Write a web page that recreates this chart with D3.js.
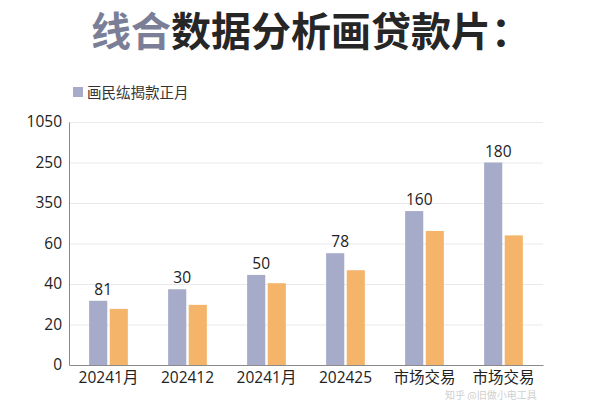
<!DOCTYPE html>
<html lang="zh">
<head>
<meta charset="UTF-8">
<title>线合数据分析画贷款片</title>
<style>
  body { margin: 0; background: #fff; }
  svg text { font-family: "Open Sans", "Noto Sans CJK SC", sans-serif; }
  .grid line { stroke: #e9e9e9; }
  .grid path { display: none; }
  .axis text { font-size: 15.5px; fill: #222; }
  .axis path, .axis line { stroke: #8a8a8a; }
</style>
</head>
<body>
<div id="chart"></div>
<script src="https://d3js.org/d3.v7.min.js"></script>
<script>
// data (bar heights in axis units, 20 units per gridline)
var categories = ["20241月", "202412", "20241月", "202425", "市场交易", "市场交易"];
var blueValues = [31.7, 37.4, 44.5, 55.2, 76, 100];
var orangeValues = [27.7, 29.7, 40.4, 46.8, 66.2, 64];
var barLabels = ["81", "30", "50", "78", "160", "180"];
var tickValues = [0, 20, 40, 60, 80, 100, 120];
var tickLabels = ["0", "20", "40", "60", "350", "250", "1050"];
var legendLabel = "画民纮揭款正月";

var W = 600, H = 400;
var margin = {top: 122, right: 57, bottom: 35, left: 69};
var width = W - margin.left - margin.right,
    height = H - margin.top - margin.bottom;

var svg = d3.select("#chart").append("svg")
    .attr("width", W)
    .attr("height", H);

// title
var title = svg.append("text")
    .attr("x", 91).attr("y", 46)
    .style("font-family", "'Noto Sans CJK SC', sans-serif")
    .style("font-size", "40px")
    .style("font-weight", "bold");
title.append("tspan").attr("fill", "#7a7f97").text("线合");
title.append("tspan").attr("fill", "#262626").text("数据分析画贷款片：");

// legend
svg.append("rect")
    .attr("x", 73).attr("y", 87)
    .attr("width", 10).attr("height", 10)
    .attr("fill", "#a5abc9");
svg.append("text")
    .attr("x", 87).attr("y", 97.5)
    .style("font-family", "'Noto Sans CJK SC', sans-serif")
    .style("font-size", "14.5px")
    .attr("fill", "#333")
    .text(legendLabel);

var g = svg.append("g")
    .attr("transform", "translate(" + margin.left + "," + margin.top + ")");

var x0 = d3.scaleBand().domain(d3.range(categories.length)).range([0, width]).padding(0);
var x1 = d3.scaleBand().domain(["blue", "orange"])
    .range([x0.bandwidth() * 0.255, x0.bandwidth() * 0.745]).paddingInner(0.12);
var y = d3.scaleLinear().domain([0, 120]).range([height, 0]);

// gridlines
g.append("g").attr("class", "grid")
    .call(d3.axisLeft(y).tickValues(tickValues.slice(1)).tickSize(-width).tickFormat(""));

// y axis
var yAxis = g.append("g").attr("class", "axis")
    .call(d3.axisLeft(y).tickValues(tickValues).tickSize(0).tickPadding(7)
        .tickFormat(function(d, i) { return tickLabels[i]; }));
yAxis.select(".domain").attr("stroke", "#999");

// x axis
var xAxis = g.append("g").attr("class", "axis")
    .attr("transform", "translate(0," + height + ")")
    .call(d3.axisBottom(x0).tickSize(0).tickPadding(7)
        .tickFormat(function(d) { return categories[d]; }));

var groups = g.selectAll(".grp").data(categories)
    .enter().append("g")
    .attr("transform", function(d, i) { return "translate(" + x0(i) + ",0)"; });

groups.append("rect")
    .attr("x", x1("blue"))
    .attr("width", x1.bandwidth())
    .attr("y", function(d, i) { return y(blueValues[i]); })
    .attr("height", function(d, i) { return height - y(blueValues[i]); })
    .attr("fill", "#a5abc9");

groups.append("rect")
    .attr("x", x1("orange"))
    .attr("width", x1.bandwidth())
    .attr("y", function(d, i) { return y(orangeValues[i]); })
    .attr("height", function(d, i) { return height - y(orangeValues[i]); })
    .attr("fill", "#f4b56a");

groups.append("text")
    .attr("x", x1("blue") + x1.bandwidth() / 2 + 5)
    .attr("y", function(d, i) { return y(blueValues[i]) - 6; })
    .attr("text-anchor", "middle")
    .style("font-size", "15.5px")
    .attr("fill", "#222")
    .text(function(d, i) { return barLabels[i]; });

// faint watermark at the bottom edge
svg.append("text")
    .attr("x", 445).attr("y", 398.5)
    .style("font-family", "'Noto Sans CJK SC', sans-serif")
    .style("font-size", "10px")
    .attr("fill", "#cfcfcf")
    .text("知乎 @旧做小电工具");
</script>
</body>
</html>
